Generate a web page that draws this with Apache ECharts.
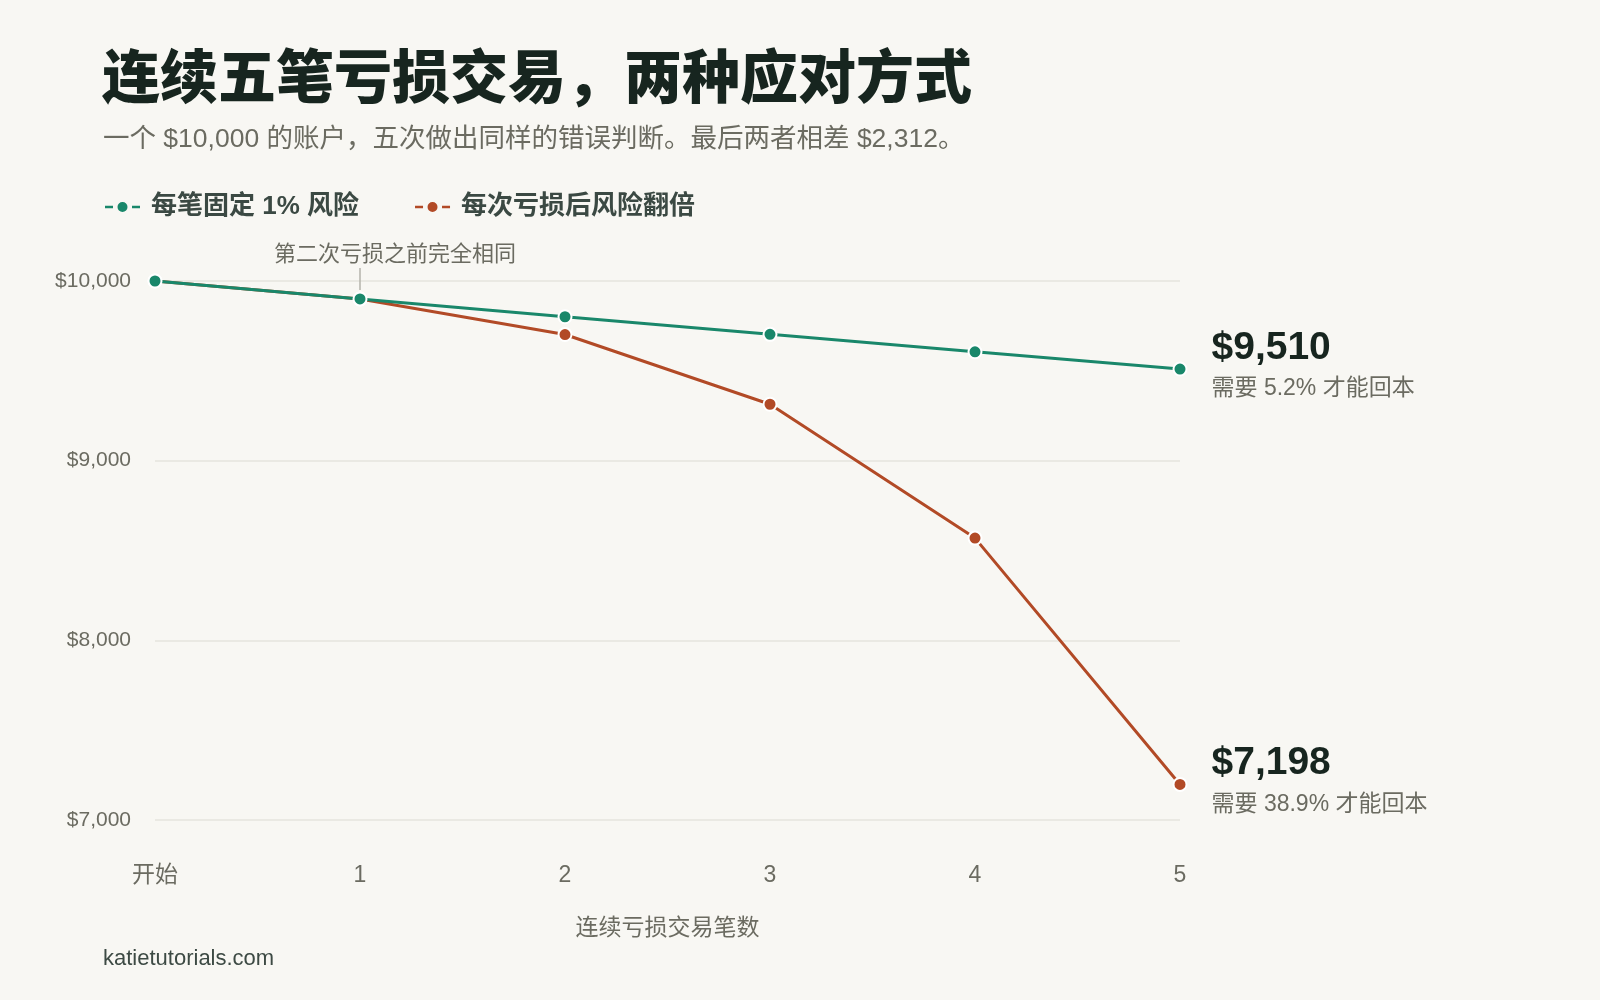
<!DOCTYPE html>
<html><head><meta charset="utf-8">
<script src="https://cdn.jsdelivr.net/npm/echarts@6/dist/echarts.min.js"></script>
<style>html,body{margin:0;padding:0;background:#f8f7f3}#c{width:1600px;height:1000px}</style>
</head><body><div id="c"></div>
<script>
const categories = ['开始', '1', '2', '3', '4', '5'];
const fixedRisk = [10000, 9900, 9801, 9703, 9606, 9510];
const doubledRisk = [10000, 9900, 9702, 9314, 8569, 7198];
const recoveryFixed = '5.2%';
const recoveryDoubled = '38.9%';
const yTicks = [7000, 8000, 9000, 10000];
const seriesNames = ['每笔固定 1% 风险', '每次亏损后风险翻倍'];
const annotationText = '第二次亏损之前完全相同';

const FONT = "'Liberation Sans', 'Noto Sans CJK SC', sans-serif";
const GREEN = '#19876a';
const ORANGE = '#b24a26';
const GRAY = '#6b6b61';
const DARK = '#17251f';
const fmt = v => '$' + v.toLocaleString('en-US');
const icon = 'path://M0,3.7L8,3.7L8,6.3L0,6.3Z M12.5,5A5,5,0,1,0,22.5,5A5,5,0,1,0,12.5,5Z M27,3.7L35,3.7L35,6.3L27,6.3Z';

function endLabelData(arr, rec) {
  return arr.map((v, i) => i === arr.length - 1 ? {
    value: v,
    label: {
      show: true, position: 'right', distance: 24, offset: [0, -2],
      formatter: '{v|' + fmt(v) + '}\n{s|需要 ' + rec + ' 才能回本}',
      rich: {
        v: { fontSize: 39, fontWeight: 'bold', color: DARK, fontFamily: FONT, lineHeight: 44 },
        s: { fontSize: 23, color: GRAY, fontFamily: FONT, lineHeight: 38 }
      }
    }
  } : v);
}

const chart = echarts.init(document.getElementById('c'));
chart.setOption({
  backgroundColor: '#f8f7f3',
  textStyle: { fontFamily: FONT },
  title: [
    { text: '连续五笔亏损交易，两种应对方式', left: 97, top: 48,
      textStyle: { fontSize: 58, fontWeight: 900, color: DARK, fontFamily: FONT } },
    { text: '一个 $10,000 的账户，五次做出同样的错误判断。最后两者相差 $2,312。', left: 98, top: 121,
      textStyle: { fontSize: 26.5, fontWeight: 'normal', color: GRAY, fontFamily: FONT } },
    { text: 'katietutorials.com', left: 98, top: 943,
      textStyle: { fontSize: 22, fontWeight: 'normal', color: '#3d4a44', fontFamily: FONT } }
  ],
  legend: {
    left: 100, top: 189, itemWidth: 35, itemHeight: 10, itemGap: 56,
    itemStyle: { borderWidth: 0 },
    data: [{ name: seriesNames[0], icon: icon }, { name: seriesNames[1], icon: icon }],
    textStyle: { fontSize: 26, fontWeight: 'bold', color: '#3b4943', fontFamily: FONT, padding: [0, 0, 0, 6] }
  },
  grid: { left: 155, right: 420, top: 281, bottom: 180 },
  xAxis: {
    type: 'category', data: categories, boundaryGap: false,
    name: '连续亏损交易笔数', nameLocation: 'middle', nameGap: 97,
    nameTextStyle: { fontSize: 23, color: GRAY, fontFamily: FONT },
    axisLine: { show: false }, axisTick: { show: false },
    axisLabel: { margin: 44, fontSize: 23, color: GRAY, fontFamily: FONT }
  },
  yAxis: {
    type: 'value', min: yTicks[0], max: yTicks[yTicks.length - 1], interval: 1000,
    axisLine: { show: false }, axisTick: { show: false },
    axisLabel: { margin: 24, fontSize: 21, color: GRAY, fontFamily: FONT, formatter: v => fmt(v) },
    splitLine: { lineStyle: { color: '#e6e4de', width: 1.5 } }
  },
  series: [
    {
      name: seriesNames[1], type: 'line', data: endLabelData(doubledRisk, recoveryDoubled),
      color: ORANGE, lineStyle: { width: 3, color: ORANGE },
      symbol: 'circle', symbolSize: 13, itemStyle: { color: ORANGE, borderColor: '#ffffff', borderWidth: 2 },
      z: 2
    },
    {
      name: seriesNames[0], type: 'line', data: endLabelData(fixedRisk, recoveryFixed),
      color: GREEN, lineStyle: { width: 3, color: GREEN },
      symbol: 'circle', symbolSize: 13, itemStyle: { color: GREEN, borderColor: '#ffffff', borderWidth: 2 },
      z: 3,
      markPoint: {
        silent: true,
        data: [{
          coord: [1, fixedRisk[1]], symbol: 'rect', symbolSize: [1.5, 22], symbolOffset: [0, -20],
          itemStyle: { color: '#b5b3ab', borderWidth: 0 },
          label: { show: true, position: 'top', distance: 2, offset: [35, 0], formatter: annotationText,
            fontSize: 22, color: GRAY, fontFamily: FONT }
        }]
      }
    }
  ]
});
</script></body></html>
